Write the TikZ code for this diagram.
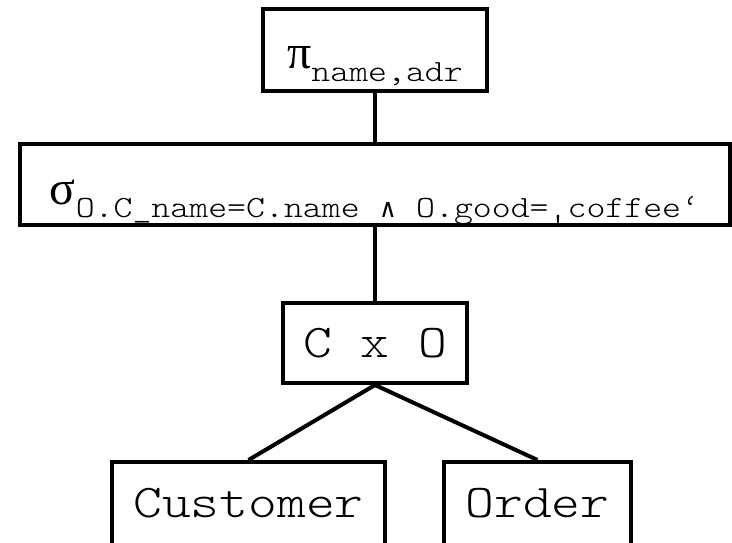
\documentclass[tikz,border=0pt]{standalone}
\usepackage{fontspec}
\setmonofont{lmmonolt10-regular.otf}[FakeStretch=1.167]
\newfontfamily\greekfont{Liberation Serif}
\newfontfamily\opfont{DejaVu Sans Mono}
% operator letter and its lowered typewriter subscript
\newcommand\opsym[1]{{\greekfont\fontsize{48}{48}\selectfont #1}}
\newcommand\opsub[1]{\raisebox{-13.5pt}{\fontsize{30.9}{30.9}\selectfont\ttfamily #1}}
\newcommand\andsym{\makebox[0.6em][c]{\opfont\fontsize{26}{26}\selectfont ∧}}
\begin{document}
\begin{tikzpicture}[x=1pt,y=-1pt,
  opbox/.style={draw, line width=4pt, inner xsep=0pt, inner ysep=0pt,
    font=\fontsize{47}{47}\selectfont\ttfamily},
  edge/.style={line width=4pt}]
\useasboundingbox (0,0) rectangle (732,542);
\clip (0,0) rectangle (732,542);

\node[opbox, minimum width=224pt, text height=59pt, text depth=23pt]
  (proj) at (375,50) {\opsym{π}\opsub{name,adr}};
\node[opbox, minimum width=710pt, text height=60pt, text depth=21pt]
  (sel) at (375,184.5)
  {\opsym{σ}\opsub{O.C\_name=C.name \andsym{} O.good=‚coffee‘}};
\node[opbox, minimum width=184pt, text height=54pt, text depth=26pt]
  (cross) at (375,343) {C x O};
\node[opbox, minimum width=273pt, text height=55pt, text depth=35pt]
  (cust) at (248.5,507) {Customer};
\node[opbox, minimum width=187pt, text height=55pt, text depth=35pt]
  (ord) at (537.5,507) {Order};

\draw[edge] (proj.south) -- (sel.north);
\draw[edge] (sel.south) -- (cross.north);
\draw[edge] (cross.south) -- (cust.north);
\draw[edge] (cross.south) -- (ord.north);
\end{tikzpicture}
\end{document}
